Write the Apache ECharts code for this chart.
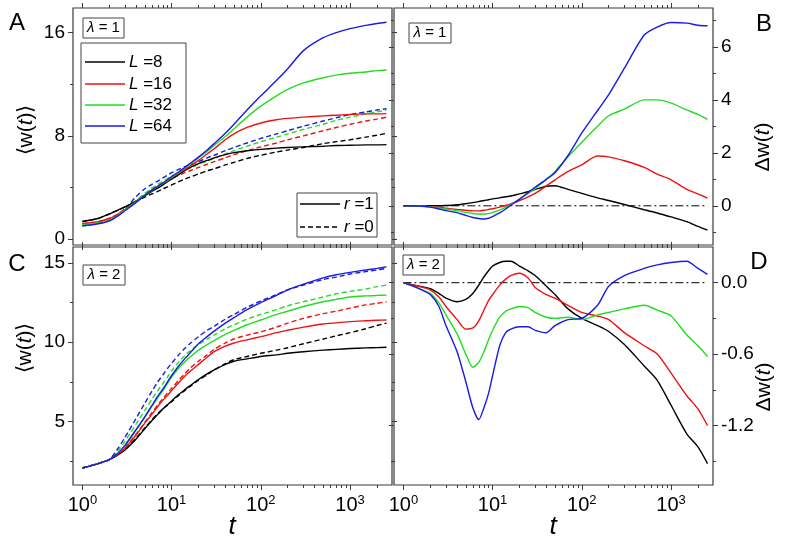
<!DOCTYPE html>
<html>
<head>
<meta charset="utf-8">
<script src="https://cdn.jsdelivr.net/npm/echarts@6/dist/echarts.min.js"></script>
<style>
  html, body { margin: 0; padding: 0; background: #fff; }
  #chart { width: 791px; height: 547px; }
</style>
</head>
<body>
<div id="chart"></div>
<script>
// time steps shared by all curves
var tSteps = [1, 1.5, 2, 2.5, 3, 4, 5, 6, 7, 8, 9, 10, 12, 14, 16, 20, 25, 30, 40, 50, 70, 100, 150, 200, 300, 500, 700, 1000, 1500, 2000, 2560];
var sizes = ['8', '16', '32', '64'];

// panel A: lambda = 1, <w(t)>
var lam1_r1_L8  = [1.37, 1.6, 1.95, 2.25, 2.5, 2.95, 3.35, 3.7, 3.95, 4.2, 4.45, 4.65, 5.0, 5.3, 5.55, 5.85, 6.1, 6.3, 6.55, 6.7, 6.85, 6.95, 7.05, 7.1, 7.15, 7.2, 7.25, 7.27, 7.3, 7.3, 7.32];
var lam1_r1_L16 = [1.2, 1.35, 1.6, 1.95, 2.3, 2.9, 3.4, 3.8, 4.1, 4.35, 4.55, 4.8, 5.1, 5.4, 5.65, 6.1, 6.6, 7.0, 7.7, 8.15, 8.65, 9.0, 9.25, 9.35, 9.45, 9.55, 9.6, 9.65, 9.7, 9.7, 9.72];
var lam1_r1_L32 = [1.1, 1.25, 1.45, 1.85, 2.25, 2.9, 3.4, 3.8, 4.1, 4.35, 4.55, 4.8, 5.15, 5.5, 5.8, 6.3, 6.8, 7.25, 7.95, 8.55, 9.45, 10.3, 11.1, 11.6, 12.1, 12.5, 12.7, 12.85, 12.95, 13.05, 13.1];
var lam1_r1_L64 = [1.03, 1.2, 1.4, 1.8, 2.2, 2.85, 3.4, 3.8, 4.1, 4.35, 4.6, 4.85, 5.2, 5.55, 5.85, 6.35, 6.9, 7.4, 8.2, 8.9, 10.0, 11.1, 12.3, 13.2, 14.6, 15.6, 16.0, 16.3, 16.55, 16.7, 16.8];
var lam1_r0_L8  = [1.37, 1.6, 1.95, 2.25, 2.5, 2.9, 3.25, 3.5, 3.7, 3.9, 4.05, 4.2, 4.45, 4.65, 4.8, 5.05, 5.3, 5.45, 5.75, 5.95, 6.25, 6.5, 6.75, 6.9, 7.1, 7.4, 7.55, 7.7, 7.9, 8.05, 8.2];
var lam1_r0_L16 = [1.2, 1.35, 1.6, 1.95, 2.35, 2.95, 3.45, 3.85, 4.1, 4.35, 4.55, 4.7, 4.95, 5.15, 5.3, 5.55, 5.8, 6.0, 6.3, 6.55, 6.85, 7.15, 7.45, 7.7, 8.0, 8.4, 8.65, 8.9, 9.15, 9.3, 9.45];
var lam1_r0_L32 = [1.1, 1.25, 1.45, 1.85, 2.3, 3.0, 3.55, 3.95, 4.25, 4.5, 4.7, 4.9, 5.15, 5.35, 5.5, 5.8, 6.05, 6.25, 6.6, 6.85, 7.2, 7.55, 7.9, 8.15, 8.5, 8.9, 9.2, 9.45, 9.7, 9.85, 10.0];
var lam1_r0_L64 = [1.03, 1.2, 1.45, 1.85, 2.3, 3.3, 3.9, 4.25, 4.5, 4.75, 4.95, 5.15, 5.4, 5.6, 5.75, 6.0, 6.3, 6.5, 6.85, 7.1, 7.45, 7.8, 8.15, 8.4, 8.75, 9.15, 9.4, 9.65, 9.85, 10.0, 10.1];

// panel B: lambda = 1, delta w(t)
var dw1_L8  = [0, 0, 0, 0, 0.01, 0.04, 0.08, 0.12, 0.16, 0.2, 0.23, 0.26, 0.3, 0.34, 0.37, 0.45, 0.53, 0.62, 0.74, 0.76, 0.62, 0.47, 0.3, 0.2, 0.05, -0.15, -0.27, -0.42, -0.6, -0.78, -0.92];
var dw1_L16 = [0, -0.01, -0.03, -0.06, -0.09, -0.14, -0.17, -0.19, -0.19, -0.17, -0.14, -0.11, -0.05, 0.01, 0.07, 0.2, 0.34, 0.47, 0.75, 0.98, 1.3, 1.55, 1.88, 1.85, 1.7, 1.45, 1.2, 0.98, 0.62, 0.45, 0.29];
var dw1_L32 = [0, -0.01, -0.04, -0.08, -0.12, -0.18, -0.25, -0.29, -0.31, -0.31, -0.29, -0.25, -0.16, -0.06, 0.04, 0.25, 0.47, 0.65, 1.0, 1.3, 1.85, 2.4, 3.0, 3.4, 3.65, 4.0, 4.0, 3.88, 3.62, 3.45, 3.26];
var dw1_L64 = [0, -0.01, -0.05, -0.12, -0.18, -0.26, -0.36, -0.44, -0.48, -0.5, -0.47, -0.4, -0.27, -0.12, 0.02, 0.25, 0.5, 0.7, 1.0, 1.25, 1.9, 2.75, 3.6, 4.2, 5.2, 6.45, 6.75, 6.92, 6.9, 6.82, 6.8];

// panel C: lambda = 2, <w(t)>
var lam2_r1_L8  = [2.07, 2.35, 2.6, 2.9, 3.2, 3.9, 4.55, 5.05, 5.45, 5.8, 6.05, 6.3, 6.7, 7.0, 7.25, 7.65, 8.0, 8.25, 8.6, 8.8, 8.95, 9.1, 9.2, 9.3, 9.4, 9.5, 9.55, 9.6, 9.64, 9.66, 9.68];
var lam2_r1_L16 = [2.07, 2.35, 2.6, 2.95, 3.3, 4.15, 4.9, 5.45, 5.95, 6.35, 6.65, 6.95, 7.45, 7.85, 8.15, 8.6, 9.05, 9.4, 9.75, 9.95, 10.15, 10.35, 10.6, 10.75, 10.95, 11.15, 11.22, 11.3, 11.35, 11.38, 11.4];
var lam2_r1_L32 = [2.07, 2.35, 2.6, 3.0, 3.45, 4.45, 5.25, 5.95, 6.5, 6.95, 7.4, 7.8, 8.35, 8.75, 9.05, 9.5, 9.85, 10.1, 10.5, 10.75, 11.1, 11.4, 11.75, 11.95, 12.25, 12.55, 12.7, 12.85, 12.92, 12.95, 12.97];
var lam2_r1_L64 = [2.07, 2.35, 2.6, 3.0, 3.5, 4.5, 5.3, 6.0, 6.6, 7.05, 7.5, 7.9, 8.5, 8.95, 9.3, 9.9, 10.35, 10.7, 11.2, 11.55, 12.05, 12.5, 12.95, 13.3, 13.65, 14.05, 14.25, 14.4, 14.55, 14.65, 14.75];
var lam2_r0_L8  = [2.07, 2.35, 2.6, 2.9, 3.25, 3.95, 4.6, 5.1, 5.5, 5.8, 6.05, 6.25, 6.65, 6.95, 7.2, 7.6, 7.95, 8.25, 8.65, 8.9, 9.1, 9.3, 9.5, 9.65, 9.9, 10.2, 10.4, 10.6, 10.85, 11.05, 11.2];
var lam2_r0_L16 = [2.07, 2.35, 2.6, 2.95, 3.35, 4.2, 4.95, 5.55, 6.05, 6.45, 6.8, 7.1, 7.6, 8.0, 8.35, 8.8, 9.2, 9.55, 9.95, 10.2, 10.45, 10.65, 10.95, 11.2, 11.5, 11.8, 11.95, 12.15, 12.35, 12.45, 12.55];
var lam2_r0_L32 = [2.07, 2.35, 2.6, 3.15, 3.75, 4.85, 5.7, 6.4, 6.95, 7.4, 7.8, 8.2, 8.75, 9.15, 9.45, 9.85, 10.2, 10.45, 10.85, 11.1, 11.45, 11.75, 12.05, 12.3, 12.55, 12.85, 13.05, 13.2, 13.35, 13.5, 13.6];
var lam2_r0_L64 = [2.07, 2.35, 2.6, 3.3, 4.0, 5.2, 6.15, 6.9, 7.5, 7.95, 8.35, 8.67, 9.2, 9.6, 9.9, 10.35, 10.75, 11.0, 11.45, 11.75, 12.2, 12.6, 13.0, 13.3, 13.6, 13.95, 14.1, 14.3, 14.45, 14.55, 14.65];

// panel D: lambda = 2, delta w(t)
var dw2_L8  = [0, -0.03, -0.05, -0.09, -0.13, -0.16, -0.14, -0.09, -0.02, 0.05, 0.1, 0.14, 0.17, 0.18, 0.18, 0.14, 0.1, 0.06, -0.03, -0.1, -0.22, -0.3, -0.36, -0.41, -0.52, -0.7, -0.82, -1.03, -1.27, -1.38, -1.52];
var dw2_L16 = [0, -0.03, -0.06, -0.12, -0.2, -0.31, -0.39, -0.38, -0.32, -0.23, -0.15, -0.1, -0.02, 0.03, 0.06, 0.08, 0.04, -0.04, -0.1, -0.13, -0.19, -0.25, -0.28, -0.31, -0.42, -0.53, -0.6, -0.76, -0.95, -1.06, -1.2];
var dw2_L32 = [0, -0.05, -0.09, -0.17, -0.27, -0.43, -0.6, -0.71, -0.67, -0.58, -0.48, -0.4, -0.29, -0.24, -0.22, -0.2, -0.21, -0.25, -0.29, -0.3, -0.29, -0.31, -0.27, -0.25, -0.22, -0.19, -0.23, -0.28, -0.44, -0.53, -0.62];
var dw2_L64 = [0, -0.05, -0.1, -0.2, -0.36, -0.58, -0.83, -1.05, -1.15, -1.05, -0.93, -0.78, -0.53, -0.42, -0.39, -0.37, -0.37, -0.4, -0.42, -0.36, -0.31, -0.3, -0.19, -0.03, 0.06, 0.12, 0.15, 0.17, 0.18, 0.12, 0.07];
var zeroLine = tSteps.map(function () { return 0; });

// tick values
var xMajor = [1, 10, 100, 1000];
var xMinor = [2, 3, 4, 5, 6, 7, 8, 9, 20, 30, 40, 50, 60, 70, 80, 90, 200, 300, 400, 500, 600, 700, 800, 900, 2000];
var yMajorA = [0, 8, 16], yMinorA = [4, 12];
var yMajorB = [0, 2, 4, 6], yMinorB = [-1, 1, 3, 5, 7];
var yMajorC = [5, 10, 15], yMinorC = [2.5, 7.5, 12.5];
var yMajorD = [0, -0.6, -1.2], yMinorD = [-0.3, -0.9, -1.5];

var colors = ['#000000', '#ee1111', '#22dd22', '#1a1ae6'];
var frame = '#3a3a3a';
var font = '"Liberation Sans", Arial, sans-serif';
var xMin = 0.785, xMax = 2950;

var grids = [
  { left: 73, top: 8, width: 319, height: 237 },
  { left: 394, top: 8, width: 319, height: 237 },
  { left: 73, top: 247, width: 319, height: 238 },
  { left: 394, top: 247, width: 319, height: 238 }
];
grids.forEach(function (g) {
  g.show = true; g.borderColor = frame; g.borderWidth = 1.2; g.backgroundColor = 'transparent';
});

function powLabel(v) {
  return '{b|10}{s|' + Math.round(Math.log10(v)) + '}';
}

function xAxis(grid, pos, ticks, len, labels) {
  return {
    type: 'log', logBase: 10, gridIndex: grid, position: pos, min: xMin, max: xMax,
    axisLine: { show: false, onZero: false },
    splitLine: { show: false },
    axisTick: { show: true, inside: false, length: len, customValues: ticks, lineStyle: { color: frame, width: 1 } },
    axisLabel: {
      show: labels, customValues: ticks, margin: 9, formatter: powLabel,
      rich: {
        b: { fontSize: 20, fontFamily: font, color: '#000', lineHeight: 22 },
        s: { fontSize: 13, fontFamily: font, color: '#000', verticalAlign: 'top' }
      }
    }
  };
}

function yAxis(grid, pos, min, max, ticks, len, labels, fmt) {
  return {
    type: 'value', gridIndex: grid, position: pos, min: min, max: max,
    axisLine: { show: false, onZero: false },
    splitLine: { show: false },
    axisTick: { show: true, inside: false, length: len, customValues: ticks, lineStyle: { color: frame, width: 1 } },
    axisLabel: { show: labels, customValues: ticks, margin: 8, fontSize: 19, fontFamily: font, color: '#000', formatter: fmt }
  };
}

var xAxes = [], yAxes = [];
var yCfg = [
  { min: -0.45, max: 17.9, major: yMajorA, minor: yMinorA, side: 'left' },
  { min: -1.48, max: 7.47, major: yMajorB, minor: yMinorB, side: 'right' },
  { min: 1.0, max: 16.0, major: yMajorC, minor: yMinorC, side: 'left' },
  { min: -1.7, max: 0.3, major: yMajorD, minor: yMinorD, side: 'right', fmt: function (v) { return v.toFixed(1); } }
];
for (var g = 0; g < 4; g++) {
  var bottomLabels = g >= 2;
  xAxes.push(xAxis(g, 'bottom', xMajor, 5, bottomLabels));
  xAxes.push(xAxis(g, 'bottom', xMinor, 3, false));
  xAxes.push(xAxis(g, 'top', xMajor, 5, false));
  xAxes.push(xAxis(g, 'top', xMinor, 3, false));
  var c = yCfg[g];
  yAxes.push(yAxis(g, 'left', c.min, c.max, c.major, 5, c.side === 'left', c.fmt));
  yAxes.push(yAxis(g, 'left', c.min, c.max, c.minor, 3, false));
  yAxes.push(yAxis(g, 'right', c.min, c.max, c.major, 5, c.side === 'right', c.fmt));
  yAxes.push(yAxis(g, 'right', c.min, c.max, c.minor, 3, false));
}

function line(grid, values, color, dashed) {
  return {
    type: 'line', xAxisIndex: grid * 4, yAxisIndex: grid * 4,
    data: tSteps.map(function (t, i) { return [t, values[i]]; }),
    showSymbol: false, smooth: 0.25, silent: true,
    lineStyle: { color: color, width: 1.4, type: dashed ? [5, 3] : 'solid' }
  };
}

function refLine(grid) {
  return {
    type: 'line', xAxisIndex: grid * 4, yAxisIndex: grid * 4,
    data: tSteps.map(function (t, i) { return [t, zeroLine[i]]; }),
    showSymbol: false, silent: true, z: 1,
    lineStyle: { color: '#000', width: 1, type: [8, 3, 2, 3] }
  };
}

var series = [refLine(1), refLine(3)];
[lam1_r0_L8, lam1_r0_L16, lam1_r0_L32, lam1_r0_L64].forEach(function (d, i) { series.push(line(0, d, colors[i], true)); });
[lam1_r1_L8, lam1_r1_L16, lam1_r1_L32, lam1_r1_L64].forEach(function (d, i) { series.push(line(0, d, colors[i], false)); });
[dw1_L8, dw1_L16, dw1_L32, dw1_L64].forEach(function (d, i) { series.push(line(1, d, colors[i], false)); });
[lam2_r0_L8, lam2_r0_L16, lam2_r0_L32, lam2_r0_L64].forEach(function (d, i) { series.push(line(2, d, colors[i], true)); });
[lam2_r1_L8, lam2_r1_L16, lam2_r1_L32, lam2_r1_L64].forEach(function (d, i) { series.push(line(2, d, colors[i], false)); });
[dw2_L8, dw2_L16, dw2_L32, dw2_L64].forEach(function (d, i) { series.push(line(3, d, colors[i], false)); });

// annotations: panel letters, lambda boxes, legends, axis names
function italRich(size) {
  return { i: { fontStyle: 'italic', fontSize: size, fontFamily: font, fill: '#000' } };
}
function txt(x, y, text, size, extra) {
  var st = { text: text, x: x, y: y, font: size + 'px ' + font, fill: '#000', align: 'center', verticalAlign: 'middle', rich: italRich(size) };
  for (var k in (extra || {})) st[k] = extra[k];
  return { type: 'text', z: 120, style: st };
}
function rotTxt(x, y, text, size) {
  return { type: 'text', x: x, y: y, rotation: Math.PI / 2, z: 120,
    style: { text: text, x: 0, y: 0, font: size + 'px ' + font, fill: '#000', align: 'center', verticalAlign: 'middle', rich: italRich(size) } };
}
function box(x, y, w, h) {
  return { type: 'rect', z: 110, shape: { x: x, y: y, width: w, height: h }, style: { fill: '#fff', stroke: '#444', lineWidth: 1 } };
}
function seg(x1, x2, y, color, dash) {
  return { type: 'line', z: 120, shape: { x1: x1, y1: y, x2: x2, y2: y }, style: { stroke: color, lineWidth: 1.5, lineDash: dash || null } };
}

var graphics = [
  txt(17, 23, 'A', 24), txt(764, 24, 'B', 24), txt(17, 264, 'C', 24), txt(759, 262, 'D', 24),
  box(83, 18, 41, 20), txt(103.5, 28, '{i|λ} = 1', 15),
  box(409, 23, 42, 20), txt(430, 33, '{i|λ} = 1', 15),
  box(83, 265, 42, 20), txt(104, 275, '{i|λ} = 2', 15),
  box(403, 255, 41, 20), txt(423.5, 265, '{i|λ} = 2', 15),
  box(81, 43, 105, 100),
  box(297, 193, 80, 44),
  seg(300, 340, 204, '#000'), seg(300, 340, 227, '#000', [5, 3]),
  txt(344, 204, '{i|r} =1', 17, { align: 'left' }), txt(344, 227, '{i|r} =0', 17, { align: 'left' }),
  rotTxt(26, 130, '⟨w({i|t})⟩', 21), rotTxt(25, 348, '⟨w({i|t})⟩', 21),
  rotTxt(763, 147, 'Δw({i|t})', 21), rotTxt(764, 387, 'Δw({i|t})', 21),
  txt(232, 527, '{i|t}', 26), txt(553, 527, '{i|t}', 26)
];
var legendRows = [62, 84, 105, 126];
sizes.forEach(function (s, i) {
  graphics.push(seg(85, 125, legendRows[i], colors[i]));
  graphics.push(txt(129, legendRows[i], '{i|L} =' + s, 17, { align: 'left' }));
});

var chart = echarts.init(document.getElementById('chart'));
chart.setOption({
  animation: false,
  backgroundColor: '#fff',
  textStyle: { fontFamily: font },
  grid: grids,
  xAxis: xAxes,
  yAxis: yAxes,
  series: series,
  graphic: { elements: graphics }
});
</script>
</body>
</html>
